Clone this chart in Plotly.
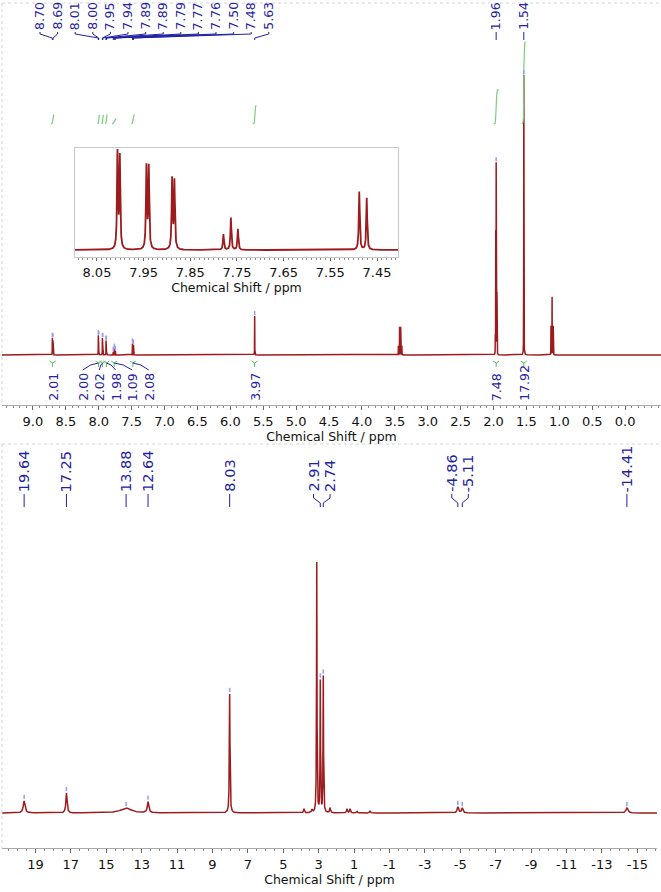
import numpy as np
import plotly.graph_objects as go

# ---------------- 1H spectrum (top) : peak list ----------------
H1_PEAK_PPM = [8.705, 8.695, 8.006, 8.001, 7.944, 7.939, 7.889, 7.884,
               7.779, 7.763, 7.748, 7.488, 7.472, 5.630,
               3.446, 3.428, 3.411, 3.393,
               1.972, 1.966, 1.960, 1.954, 1.948, 1.540,
               1.127, 1.110, 1.093]
H1_PEAK_INT = [17.0, 16.5, 18.8, 18.0, 16.1, 16.0, 13.7, 13.3,
               3.1, 6.3, 4.1, 11.4, 10.2, 39.0,
               9.0, 28.0, 28.0, 9.0,
               60.0, 120.0, 188.0, 120.0, 60.0, 280.0,
               29.0, 58.0, 29.0]
H1_PEAK_HW = [0.0012] * 14 + [0.0012] * 4 + [0.0008] * 5 + [0.0012] + [0.0012] * 3

H1_LABEL_PPM = [8.705, 8.695, 8.006, 8.001, 7.944, 7.939, 7.889, 7.884,
                7.779, 7.763, 7.748, 7.488, 7.472, 5.630, 1.960, 1.540]
H1_LABEL_TXT = ["8.70", "8.69", "8.01", "8.00", "7.95", "7.94", "7.89", "7.89",
                "7.79", "7.77", "7.76", "7.50", "7.48", "5.63", "1.96", "1.54"]

H1_INT_FROM = [8.720, 8.015, 7.955, 7.897, 7.800, 7.500, 5.660, 2.000, 1.570]
H1_INT_TO = [8.680, 7.990, 7.930, 7.870, 7.730, 7.460, 5.600, 1.920, 1.510]
H1_INT_VAL = [2.01, 2.00, 2.02, 1.98, 1.09, 2.08, 3.97, 7.48, 17.92]
H1_INT_TXT = ["2.01", "2.00", "2.02", "1.98", "1.09", "2.08", "3.97", "7.48", "17.92"]

TOP_TICKS = [9.0, 8.5, 8.0, 7.5, 7.0, 6.5, 6.0, 5.5, 5.0, 4.5, 4.0, 3.5, 3.0, 2.5, 2.0, 1.5, 1.0, 0.5, 0.0]
INSET_TICKS = [8.05, 7.95, 7.85, 7.75, 7.65, 7.55, 7.45]

# ---------------- second spectrum (bottom) ----------------
X_PEAK_PPM = [19.64, 17.25, 13.88, 12.64, 8.03, 3.83, 3.38, 3.11, 2.91, 2.74,
              2.36, 1.40, 1.23, 0.84, 0.10, -4.86, -5.11, -14.41]
X_PEAK_INT = [12, 20, 5, 11, 119, 4, 3, 250, 131, 136,
              5, 4, 4, 1.5, 2, 6, 5, 5]
X_PEAK_HW = [0.06, 0.04, 0.35, 0.05, 0.02, 0.03, 0.03, 0.015, 0.015, 0.015,
             0.03, 0.03, 0.03, 0.03, 0.03, 0.05, 0.05, 0.07]

X_LABEL_PPM = [19.64, 17.25, 13.88, 12.64, 8.03, 2.91, 2.74, -4.86, -5.11, -14.41]
X_LABEL_TXT = ["19.64", "17.25", "13.88", "12.64", "8.03", "2.91", "2.74", "-4.86", "-5.11", "-14.41"]

BOTTOM_TICKS = [19, 17, 15, 13, 11, 9, 7, 5, 3, 1, -1, -3, -5, -7, -9, -11, -13, -15]

# ---------------- layout constants ----------------
FW, FH = 661, 892
RED = "#9c1b1d"
BLUE = "#1f22a3"
GREEN = "#7ccc7c"
PICK = "#9a9cf0"
FONT = "DejaVu Sans"

TOP_PX = (2, 661)
TOP_RANGE = (9.47, -0.545)
TOP_Y = (3, 405)          # pixel top / bottom of top plot area
TOP_BASE = 355            # baseline pixel
INS_PX = (75, 398)
INS_RANGE = (8.097, 7.405)
INS_Y = (148, 257)
INS_YR = (-1.37, 20.0)
BOT_PX = (2, 657)
BOT_RANGE = (20.89, -16.11)
BOT_Y = (444, 848)
BOT_BASE = 813

INT_BASE = 231
INT_SCALE = 4.6


def to_px(ppm, rng, px):
    return px[0] + (rng[0] - ppm) / (rng[0] - rng[1]) * (px[1] - px[0])


def lorentz(grid, centers, heights, hws):
    y = np.zeros_like(grid)
    for c, h, w in zip(centers, heights, hws):
        y += h * w * w / ((grid - c) ** 2 + w * w)
    return y


def make_grid(lo, hi, step, centers, hws):
    parts = [np.arange(lo, hi, step)]
    for c, w in zip(centers, hws):
        parts.append(np.linspace(c - 15 * w, c + 15 * w, 151))
    return np.unique(np.concatenate(parts))[::-1]


def spread(ideal, gap, lo, hi):
    order = list(np.argsort(ideal, kind="stable"))
    xs = [ideal[i] for i in order]
    clusters = [[k] for k in range(len(xs))]

    def place(c):
        mid = (xs[c[0]] + xs[c[-1]]) / 2
        start = mid - gap * (len(c) - 1) / 2
        start = min(max(start, lo), hi - gap * (len(c) - 1))
        return [start + gap * j for j in range(len(c))]

    changed = True
    while changed:
        changed = False
        pos = [place(c) for c in clusters]
        for k in range(len(clusters) - 1):
            if pos[k][-1] + gap > pos[k + 1][0] + 1e-9:
                clusters[k] = clusters[k] + clusters[k + 1]
                del clusters[k + 1]
                changed = True
                break
    flat = [p for c in clusters for p in place(c)]
    out = [0.0] * len(ideal)
    for j, i in enumerate(order):
        out[i] = flat[j]
    return out


px_x = lambda x: x / FW
px_y = lambda y: 1 - y / FH

# ---------------- spectra ----------------
h_grid = make_grid(TOP_RANGE[1] - 0.05, TOP_RANGE[0] + 0.05, 0.002, H1_PEAK_PPM, H1_PEAK_HW)
h_spec = lorentz(h_grid, H1_PEAK_PPM, H1_PEAK_INT, H1_PEAK_HW)
x_grid = make_grid(BOT_RANGE[1] - 0.1, BOT_RANGE[0] + 0.1, 0.01, X_PEAK_PPM, X_PEAK_HW)
x_spec = lorentz(x_grid, X_PEAK_PPM, X_PEAK_INT, X_PEAK_HW)

fig = go.Figure()
fig.add_trace(go.Scatter(x=h_grid, y=h_spec, mode="lines", line=dict(color=RED, width=1.5),
                         xaxis="x", yaxis="y", hoverinfo="skip", showlegend=False))

# integral curves
ix, iy = [], []
for a, b, v in zip(H1_INT_FROM, H1_INT_TO, H1_INT_VAL):
    m = (h_grid <= a) & (h_grid >= b)
    gx = h_grid[m]
    gy = h_spec[m]
    dx = np.abs(np.gradient(gx))
    cum = np.cumsum(gy * dx)
    cum = cum / cum[-1]
    ix += list(gx) + [None]
    iy += list(INT_BASE + INT_SCALE * v * cum) + [None]
fig.add_trace(go.Scatter(x=ix, y=iy, mode="lines", line=dict(color=GREEN, width=1.2),
                         xaxis="x", yaxis="y", hoverinfo="skip", showlegend=False, connectgaps=False))

# integral region marks below baseline
reg_c = [(a + b) / 2 for a, b in zip(H1_INT_FROM, H1_INT_TO)]
fig.add_trace(go.Scatter(x=reg_c, y=[-8] * len(reg_c), mode="markers",
                         marker=dict(symbol="y-down", size=5, line=dict(color="#5cb85c", width=1)),
                         xaxis="x", yaxis="y", hoverinfo="skip", showlegend=False))

# peak pick marks (top)
asc = h_grid[::-1]
asc_y = h_spec[::-1]
pk_y = [float(np.interp(p, asc, asc_y)) + 3 for p in H1_LABEL_PPM]
fig.add_trace(go.Scatter(x=H1_LABEL_PPM, y=pk_y, mode="markers",
                         marker=dict(symbol="line-ns", size=3, line=dict(color=PICK, width=1.5)),
                         xaxis="x", yaxis="y", hoverinfo="skip", showlegend=False))

# inset
m = (h_grid <= 8.12) & (h_grid >= 7.38)
fig.add_trace(go.Scatter(x=h_grid[m], y=h_spec[m], mode="lines", line=dict(color=RED, width=1.8),
                         xaxis="x2", yaxis="y2", hoverinfo="skip", showlegend=False))

# bottom spectrum
fig.add_trace(go.Scatter(x=x_grid, y=x_spec, mode="lines", line=dict(color=RED, width=1.5),
                         xaxis="x3", yaxis="y3", hoverinfo="skip", showlegend=False))
asc3 = x_grid[::-1]
asc3_y = x_spec[::-1]
pk3_y = [float(np.interp(p, asc3, asc3_y)) + 4 for p in X_LABEL_PPM]
fig.add_trace(go.Scatter(x=X_LABEL_PPM, y=pk3_y, mode="markers",
                         marker=dict(symbol="line-ns", size=3, line=dict(color=PICK, width=1.5)),
                         xaxis="x3", yaxis="y3", hoverinfo="skip", showlegend=False))

annotations = []
shapes = []

# ---- top peak labels ----
ideal = [to_px(p, TOP_RANGE, TOP_PX) for p in H1_LABEL_PPM]
lab = spread(ideal, 17.6, 40, 650)
for t, xi, xl in zip(H1_LABEL_TXT, ideal, lab):
    annotations.append(dict(x=px_x(xl), y=px_y(32), xref="paper", yref="paper", text=t,
                            textangle=-90, xanchor="center", yanchor="bottom", showarrow=False,
                            font=dict(family=FONT, size=12.5, color=BLUE)))
    path = "M {:.5f},{:.5f} L {:.5f},{:.5f} L {:.5f},{:.5f} L {:.5f},{:.5f}".format(
        px_x(xl), px_y(32), px_x(xl), px_y(34), px_x(xi), px_y(38), px_x(xi), px_y(40))
    shapes.append(dict(type="path", path=path, xref="paper", yref="paper",
                       line=dict(color=BLUE, width=1)))

# ---- integration labels ----
ideal = [to_px(c, TOP_RANGE, TOP_PX) for c in reg_c]
lab = spread(ideal, 16.5, 20, 650)
for t, xi, xl in zip(H1_INT_TXT, ideal, lab):
    annotations.append(dict(x=px_x(xl), y=px_y(403), xref="paper", yref="paper", text=t,
                            textangle=-90, xanchor="center", yanchor="bottom", showarrow=False,
                            font=dict(family=FONT, size=12.5, color=BLUE)))
    if abs(xl - xi) > 0.5:
        path = "M {:.5f},{:.5f} L {:.5f},{:.5f} L {:.5f},{:.5f}".format(
            px_x(xl), px_y(370), px_x((xl + xi) / 2), px_y(365), px_x(xi), px_y(363))
        shapes.append(dict(type="path", path=path, xref="paper", yref="paper",
                           line=dict(color=BLUE, width=1)))

# ---- bottom peak labels ----
ideal = [to_px(p, BOT_RANGE, BOT_PX) for p in X_LABEL_PPM]
lab = spread(ideal, 16.5, 10, 650)
for t, xi, xl in zip(X_LABEL_TXT, ideal, lab):
    annotations.append(dict(x=px_x(xl), y=px_y(494), xref="paper", yref="paper", text=t,
                            textangle=-90, xanchor="center", yanchor="bottom", showarrow=False,
                            font=dict(family=FONT, size=14.5, color=BLUE)))
    path = "M {:.5f},{:.5f} L {:.5f},{:.5f} L {:.5f},{:.5f} L {:.5f},{:.5f}".format(
        px_x(xl), px_y(494), px_x(xl), px_y(498), px_x(xi), px_y(503), px_x(xi), px_y(507))
    shapes.append(dict(type="path", path=path, xref="paper", yref="paper",
                       line=dict(color=BLUE, width=1)))

# frame lines (dotted light grey)
for (x0, y0, x1, y1) in [(2, 3, 2, TOP_Y[1]), (2, 3, 661, 3), (2, BOT_Y[0], 2, BOT_Y[1]), (2, BOT_Y[0], 661, BOT_Y[0])]:
    shapes.append(dict(type="line", xref="paper", yref="paper", x0=px_x(x0), y0=px_y(y0),
                       x1=px_x(x1), y1=px_y(y1), line=dict(color="#d4d4d4", width=1, dash="dot")))

tickfont = dict(family=FONT, size=13, color="#111")
titlefont = dict(family=FONT, size=12.5, color="#111")

fig.update_layout(
    width=FW, height=FH, margin=dict(l=0, r=0, t=0, b=0),
    paper_bgcolor="white", plot_bgcolor="white", showlegend=False,
    annotations=annotations, shapes=shapes,
    xaxis=dict(domain=[px_x(TOP_PX[0]), px_x(TOP_PX[1])], range=list(TOP_RANGE), anchor="y",
               tickmode="array", tickvals=TOP_TICKS, ticktext=["%.1f" % v for v in TOP_TICKS],
               ticks="outside", ticklen=4, tickcolor="#666", showline=True, linecolor="#aaaaaa",
               minor=dict(ticks="outside", ticklen=2, dtick=0.1, tick0=0, tickcolor="#888"),
               showgrid=False, zeroline=False, tickfont=tickfont,
               title=dict(text="Chemical Shift / ppm", font=titlefont, standoff=2)),
    yaxis=dict(domain=[px_y(TOP_Y[1]), px_y(TOP_Y[0])],
               range=[-(TOP_Y[1] - TOP_BASE), TOP_BASE - TOP_Y[0]], visible=False, anchor="x"),
    xaxis2=dict(domain=[px_x(INS_PX[0]), px_x(INS_PX[1])], range=list(INS_RANGE), anchor="y2",
                tickmode="array", tickvals=INSET_TICKS, ticktext=["%.2f" % v for v in INSET_TICKS],
                ticks="outside", ticklen=3, tickcolor="#666", showline=True, mirror=True,
                linecolor="#c8c8c8",
                minor=dict(ticks="outside", ticklen=2, dtick=0.01, tick0=7.45, tickcolor="#888"),
                showgrid=False, zeroline=False, tickfont=tickfont,
                title=dict(text="Chemical Shift / ppm", font=titlefont, standoff=2)),
    yaxis2=dict(domain=[px_y(INS_Y[1]), px_y(INS_Y[0])], range=list(INS_YR), anchor="x2",
                showline=True, mirror=True, linecolor="#c8c8c8", showticklabels=False,
                ticks="", showgrid=False, zeroline=False),
    xaxis3=dict(domain=[px_x(BOT_PX[0]), px_x(BOT_PX[1])], range=list(BOT_RANGE), anchor="y3",
                tickmode="array", tickvals=BOTTOM_TICKS, ticktext=[str(v) for v in BOTTOM_TICKS],
                ticks="outside", ticklen=4, tickcolor="#666", showline=True, linecolor="#aaaaaa",
                minor=dict(ticks="outside", ticklen=2, dtick=0.5, tick0=0, tickcolor="#888"),
                showgrid=False, zeroline=False, tickfont=tickfont,
                title=dict(text="Chemical Shift / ppm", font=titlefont, standoff=2)),
    yaxis3=dict(domain=[px_y(BOT_Y[1]), px_y(BOT_Y[0])],
                range=[-(BOT_Y[1] - BOT_BASE), BOT_BASE - BOT_Y[0]], visible=False, anchor="x3"),
)

fig.write_html("out.html")
